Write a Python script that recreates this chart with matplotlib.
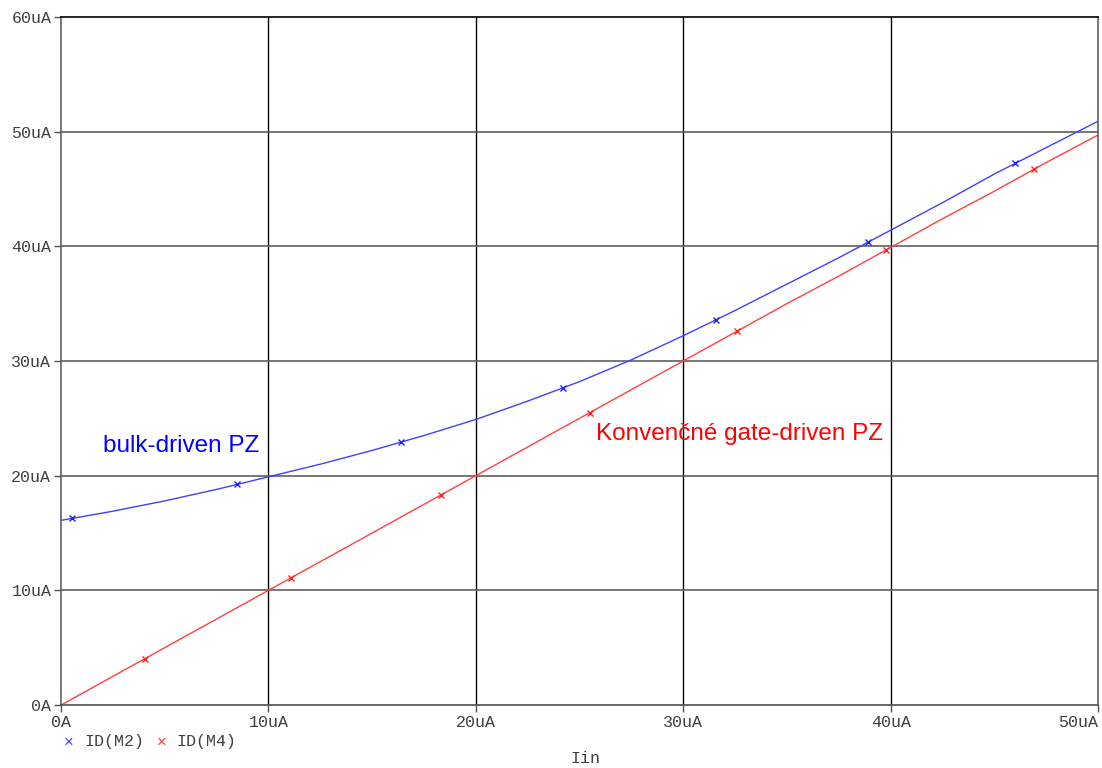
import matplotlib.pyplot as plt
import numpy as np

# Sweep of input current Iin (uA) and the drain currents read from the simulation
iin = [0, 2.5, 5, 7.5, 10, 12.5, 15, 17.5, 20, 22.5, 25, 27.5, 30,
       32.5, 35, 37.5, 40, 42.5, 45, 47.5, 50]
id_m2 = [16.1, 16.9, 17.8, 18.8, 19.9, 21.0, 22.2, 23.5, 24.9, 26.5, 28.2, 30.1, 32.2,
         34.4, 36.7, 39.0, 41.4, 43.8, 46.3, 48.6, 50.9]
id_m4 = [0.0, 2.5, 5.0, 7.5, 10.0, 12.5, 15.0, 17.5, 20.0, 22.5, 25.0, 27.5, 30.0,
         32.5, 35.0, 37.4, 39.9, 42.4, 44.8, 47.3, 49.7]

# marker positions along each trace
m2_mark_x = [0.53, 8.5, 16.4, 24.2, 31.6, 38.9, 46.0]
m4_mark_x = [4.05, 11.1, 18.3, 25.5, 32.6, 39.8, 46.9]

xticks = [0, 10, 20, 30, 40, 50]
yticks = [0, 10, 20, 30, 40, 50, 60]
xlabels = ['0A', '10uA', '20uA', '30uA', '40uA', '50uA']
ylabels = ['0A', '10uA', '20uA', '30uA', '40uA', '50uA', '60uA']

mono = 'Liberation Mono'
sans = 'Liberation Sans'

fig = plt.figure(figsize=(11.02, 7.68), dpi=100)
ax = fig.add_axes([0.0554, 0.082, 0.941, 0.896])

ax.plot(iin, id_m2, color='#4040ff', lw=1.0)
ax.plot(iin, id_m4, color='#ff4040', lw=1.0)
ax.plot(m2_mark_x, np.interp(m2_mark_x, iin, id_m2), 'x', color='#2020ff', ms=5, mew=1.0)
ax.plot(m4_mark_x, np.interp(m4_mark_x, iin, id_m4), 'x', color='#ff2020', ms=5, mew=1.0)

ax.set_xlim(0, 50)
ax.set_ylim(0, 60)
ax.set_xticks(xticks)
ax.set_yticks(yticks)
ax.set_xticklabels(xlabels, fontfamily=mono, fontsize=12, color='#404040')
ax.set_yticklabels(ylabels, fontfamily=mono, fontsize=12, color='#404040')
ax.tick_params(axis='both', direction='out', length=5, width=1, color='#505050', pad=2)
# last x label sits flush with the right edge
ax.get_xticklabels()[-1].set_horizontalalignment('right')

# grid: vertical lines black, horizontal lines dark grey
for x in xticks[1:-1]:
    ax.axvline(x, color='black', lw=1.0, zorder=0)
for y in yticks[1:-1]:
    ax.axhline(y, color='#606060', lw=1.2, zorder=0)

ax.spines['top'].set_color('black')
ax.spines['left'].set_color('#606060')
ax.spines['right'].set_color('#606060')
ax.spines['bottom'].set_color('#505050')
for s in ax.spines.values():
    s.set_linewidth(1.2)

ax.text(2.0, 22.6, 'bulk-driven PZ', color='#0000ff', fontfamily=sans,
        fontsize=17.5, va='center', ha='left')
ax.text(25.8, 23.6, 'Konvenčné gate-driven PZ', color='#ff0000', fontfamily=sans,
        fontsize=17.5, va='center', ha='left')

# legend row under the axis
fig.text(0.058, 0.034, '×', color='#4040ff', fontfamily=sans, fontsize=12, va='center')
fig.text(0.077, 0.034, 'ID(M2)', color='#404040', fontfamily=mono, fontsize=12, va='center')
fig.text(0.142, 0.034, '×', color='#ff4040', fontfamily=sans, fontsize=12, va='center')
fig.text(0.160, 0.034, 'ID(M4)', color='#404040', fontfamily=mono, fontsize=12, va='center')

fig.text(0.531, 0.013, 'Iin', color='#404040', fontfamily=mono, fontsize=12,
         ha='center', va='center')

fig.savefig('out.png', dpi=100, facecolor='white')
